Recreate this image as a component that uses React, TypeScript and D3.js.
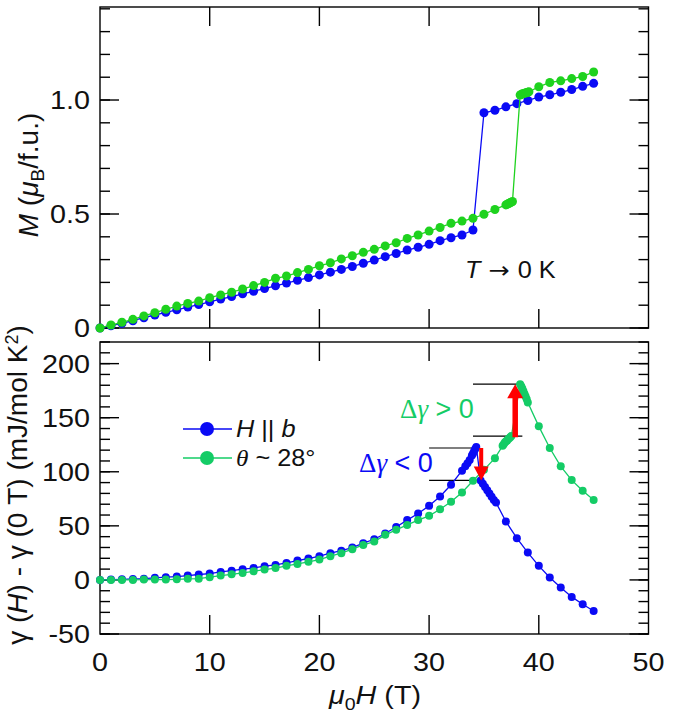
import React from 'react'
import { scaleLinear, line, range } from 'd3'

// Magnetization (top) and Sommerfeld coefficient change (bottom) vs field,
// for H || b (blue) and the tilted field theta ~ 28 deg (green).

// top panel: M (muB/f.u.)
const mBlueH = [
  0, 1, 2, 3, 4, 5, 6, 7, 8, 9, 10, 11, 12, 13, 14, 15, 16, 17, 18, 19, 20, 21, 22, 23, 24, 25, 26, 27, 28, 29, 30,
  31, 32, 33, 34, 35, 36, 37, 38, 39, 40, 41, 42, 43, 44, 45,
]
const mBlueM = [
  0, 0.01, 0.02, 0.032, 0.045, 0.057, 0.069, 0.08, 0.092, 0.103, 0.115, 0.127, 0.138, 0.15, 0.161, 0.173, 0.185,
  0.197, 0.209, 0.221, 0.233, 0.245, 0.257, 0.27, 0.284, 0.298, 0.313, 0.327, 0.342, 0.354, 0.367, 0.383, 0.396,
  0.408, 0.43, 0.944, 0.955, 0.97, 0.984, 0.998, 1.013, 1.023, 1.034, 1.046, 1.06, 1.073,
]
const mGreenH = [
  0, 1, 2, 3, 4, 5, 6, 7, 8, 9, 10, 11, 12, 13, 14, 15, 16, 17, 18, 19, 20, 21, 22, 23, 24, 25, 26, 27, 28, 29, 30,
  31, 32, 33, 34, 35, 36, 37.0, 37.1, 37.2, 37.3, 37.4, 37.5, 37.6, 38.3, 38.4, 38.5, 38.6, 38.7, 38.8, 38.9, 39.0,
  39.1, 40, 41, 42, 43, 44, 45,
]
const mGreenM = [
  0, 0.013, 0.025, 0.038, 0.053, 0.067, 0.082, 0.096, 0.108, 0.118, 0.133, 0.145, 0.157, 0.171, 0.186, 0.2, 0.218,
  0.228, 0.243, 0.257, 0.273, 0.286, 0.303, 0.317, 0.332, 0.345, 0.36, 0.374, 0.393, 0.408, 0.425, 0.441, 0.459,
  0.469, 0.481, 0.499, 0.52, 0.54, 0.542, 0.545, 0.547, 0.55, 0.552, 0.555, 1.022, 1.024, 1.027, 1.028, 1.03, 1.031,
  1.033, 1.034, 1.036, 1.058, 1.077, 1.084, 1.094, 1.103, 1.123,
]

// bottom panel: gamma(H) - gamma(0 T) (mJ/mol K^2)
const gBlueH = [
  0, 1, 2, 3, 4, 5, 6, 7, 8, 9, 10, 11, 12, 13, 14, 15, 16, 17, 18, 19, 20, 21, 22, 23, 24, 25, 26, 27, 28, 29, 30,
  31, 32, 33, 33.3, 33.5, 33.7, 33.9, 34.0, 34.1, 34.2, 34.3, 34.7, 34.9, 35.1, 35.3, 35.5, 35.7, 35.9, 36.1, 37, 38,
  39, 40, 41, 42, 43, 44, 45,
]
const gBlueG = [
  0, 0.3, 0.6, 0.9, 1.2, 1.9, 2.5, 3.1, 4, 5, 5.9, 7.4, 8.6, 9.9, 11, 12.7, 13.9, 15.7, 17.9, 19.8, 22, 24.7, 27,
  29.9, 34, 37.6, 42.9, 49, 55.3, 61.4, 68.5, 77.2, 88, 101, 105, 108, 111, 115, 117, 119, 121, 123, 92, 89, 86, 83,
  80, 77, 74, 71.5, 54, 38.6, 25.3, 13, 2.2, -7, -15.7, -22.5, -28.7,
]
const gGreenH = [
  0, 1, 2, 3, 4, 5, 6, 7, 8, 9, 10, 11, 12, 13, 14, 15, 16, 17, 18, 19, 20, 21, 22, 23, 24, 25, 26, 27, 28, 29, 30,
  31, 32, 33, 34, 35, 36, 36.7, 36.8, 36.9, 37.0, 37.1, 37.2, 37.3, 37.4, 37.5, 38.3, 38.4, 38.5, 38.6, 38.7, 38.8,
  38.9, 39.0, 40, 41, 42, 43, 44, 45,
]
const gGreenG = [
  0, 0, 0, 0, 0.3, 0.3, 0.3, 0.6, 1, 1.2, 2.5, 4, 5.2, 6.5, 8, 9.6, 11, 13, 14.8, 16.7, 18.8, 22, 24.7, 28.4, 32.4,
  35.5, 41.7, 46.3, 50.9, 55.3, 59.3, 65.4, 72.2, 80.9, 91.7, 101.8, 112.6, 124, 125.5, 127, 128, 129, 130, 131, 132,
  133, 181, 179, 177, 174.5, 172, 169.5, 167, 164, 142, 122, 105, 92.3, 82.4, 74,
]

// horizontal guide lines [from H, to H, level] and the two arrows [H, from, to]
const guideLines = [
  [34.0, 38.4, 181],
  [34.0, 38.5, 133],
  [30.0, 34.2, 122],
  [30.0, 34.8, 92],
]
const arrowUp = [37.85, 132, 181]
const arrowDown = [34.75, 122, 92]

const xTicks = [0, 10, 20, 30, 40, 50]
const mMajor = [0, 0.5, 1.0]
const mLabels = ['0', '0.5', '1.0']
const gMajor = [-50, 0, 50, 100, 150, 200]

const BLUE = '#0a0af5'
const GREEN_TOP = '#1ed21e'
const GREEN_BOT = '#14cc66'
const FONT = '"Liberation Sans", Arial, Helvetica, sans-serif'
const SERIF = '"Liberation Serif", serif'

const W = 699
const H = 719
const L = 100
const R = 648.5
const topY = [7, 328]
const botY = [342, 634]

const x = scaleLinear().domain([0, 50]).range([L, R])
const yM = scaleLinear().domain([0, 1.408]).range([topY[1], topY[0]])
const yG = scaleLinear().domain([-50, 220]).range([botY[1], botY[0]])

function Txt({
  x,
  y,
  size = 25,
  anchor = 'start',
  sx = 1.15,
  fill = '#111',
  children,
}: {
  x: number
  y: number
  size?: number
  anchor?: 'start' | 'middle' | 'end'
  sx?: number
  fill?: string
  children: React.ReactNode
}) {
  return (
    <text transform={`translate(${x},${y}) scale(${sx},1)`} fontSize={size} textAnchor={anchor} fill={fill} fontFamily={FONT}>
      {children}
    </text>
  )
}

function Frame({ y, major, minor }: { y: any; major: number[]; minor: number[] }) {
  const [y1, y0] = y.range()
  return (
    <g stroke="#000" strokeWidth={1.4} fill="none">
      <rect x={L} y={y0} width={R - L} height={y1 - y0} />
      {xTicks.slice(1, -1).map((t) => (
        <g key={t}>
          <line x1={x(t)} x2={x(t)} y1={y0} y2={y0 + 19} />
          <line x1={x(t)} x2={x(t)} y1={y1} y2={y1 - 19} />
        </g>
      ))}
      {minor.map((t) => (
        <g key={'m' + t}>
          <line x1={L} x2={L + 10} y1={y(t)} y2={y(t)} />
          <line x1={R} x2={R - 10} y1={y(t)} y2={y(t)} />
        </g>
      ))}
      {major.map((t) => (
        <g key={'M' + t}>
          <line x1={L} x2={L + 19} y1={y(t)} y2={y(t)} />
          <line x1={R} x2={R - 19} y1={y(t)} y2={y(t)} />
        </g>
      ))}
    </g>
  )
}

function Series({ xs, ys, y, color, r }: { xs: number[]; ys: number[]; y: any; color: string; r: number }) {
  const pts = xs.map((h, i) => [h, ys[i]] as [number, number])
  const d = line<[number, number]>()
    .x((p) => x(p[0]))
    .y((p) => y(p[1]))(pts)
  return (
    <g>
      <path d={d ?? ''} fill="none" stroke={color} strokeWidth={1.3} />
      {pts.map((p, i) => (
        <circle key={i} cx={x(p[0])} cy={y(p[1])} r={r} fill={color} />
      ))}
    </g>
  )
}

function Arrow({ a, shaft, head, hw }: { a: number[]; shaft: number; head: number; hw: number }) {
  const cx = x(a[0])
  const ys = yG(a[1])
  const tip = yG(a[2])
  const dir = tip < ys ? 1 : -1
  const hb = tip + dir * head
  const d = `M${cx - shaft / 2},${ys} L${cx - shaft / 2},${hb} L${cx - hw / 2},${hb} L${cx},${tip} L${cx + hw / 2},${hb} L${cx + shaft / 2},${hb} L${cx + shaft / 2},${ys} Z`
  return <path d={d} fill="#ff0000" />
}

export default function App() {
  const mMinor = range(0, 15).map((i) => i / 10).filter((v) => v <= 1.408)
  const gMinor = range(-50, 221, 10)
  return (
    <svg width={W} height={H} style={{ position: 'absolute', left: 0, top: 0, background: '#fff' }} fontFamily={FONT}>
      <Frame y={yM} major={mMajor} minor={mMinor} />
      <Frame y={yG} major={gMajor} minor={gMinor} />

      {/* top panel */}
      <Series xs={mBlueH} ys={mBlueM} y={yM} color={BLUE} r={4.5} />
      <Series xs={mGreenH} ys={mGreenM} y={yM} color={GREEN_TOP} r={4.5} />
      {mMajor.map((t, i) => (
        <Txt key={t} x={90} y={yM(t) + 9} anchor="end">
          {mLabels[i]}
        </Txt>
      ))}
      <Txt x={465} y={278} size={23} sx={1.1}>
        <tspan fontStyle="italic">T</tspan>
        <tspan fontFamily='"DejaVu Sans", sans-serif'> → </tspan>0 K
      </Txt>
      <text transform={`translate(38,175) rotate(-90)`} fontSize={28} textAnchor="middle" fill="#111">
        <tspan fontStyle="italic">M</tspan> (<tspan fontStyle="italic">μ</tspan>
        <tspan fontSize={19} dy={6}>B</tspan>
        <tspan dy={-6}>/f.u.)</tspan>
      </text>

      {/* bottom panel */}
      {guideLines.map((g, i) => (
        <line key={i} x1={x(g[0])} x2={x(g[1])} y1={yG(g[2])} y2={yG(g[2])} stroke="#000" strokeWidth={1.2} />
      ))}
      <Series xs={gBlueH} ys={gBlueG} y={yG} color={BLUE} r={4} />
      <Series xs={gGreenH} ys={gGreenG} y={yG} color={GREEN_BOT} r={4} />
      <Arrow a={arrowUp} shaft={5.5} head={14} hw={16} />
      <Arrow a={arrowDown} shaft={4} head={14} hw={15} />
      <Txt x={400} y={418} size={27} sx={1} fill={GREEN_BOT}>
        <tspan fontFamily={SERIF}>Δ</tspan>
        <tspan fontFamily={SERIF} fontStyle="italic">γ</tspan> &gt; 0
      </Txt>
      <Txt x={359} y={472} size={27} sx={1} fill={BLUE}>
        <tspan fontFamily={SERIF}>Δ</tspan>
        <tspan fontFamily={SERIF} fontStyle="italic">γ</tspan> &lt; 0
      </Txt>
      {gMajor.map((t) => (
        <Txt key={t} x={90} y={yG(t) + 9} anchor="end">
          {String(t)}
        </Txt>
      ))}
      {xTicks.map((t) => (
        <Txt key={t} x={x(t)} y={671} anchor="middle">
          {String(t)}
        </Txt>
      ))}
      <Txt x={375} y={704} size={25} sx={1.15} anchor="middle">
        <tspan fontStyle="italic">μ</tspan>
        <tspan fontSize={17} dy={6}>0</tspan>
        <tspan fontStyle="italic" dy={-6}>H</tspan> (T)
      </Txt>
      <text transform={`translate(27,485) rotate(-90)`} fontSize={28} textAnchor="middle" fill="#111">
        γ (<tspan fontStyle="italic">H</tspan>) - γ (0 T) (mJ/mol K<tspan fontSize={18} dy={-9}>2</tspan>
        <tspan dy={9}>)</tspan>
      </text>

      {/* legend */}
      {[
        { c: BLUE, y: 429 },
        { c: GREEN_BOT, y: 458 },
      ].map((l) => (
        <g key={l.y}>
          <line x1={183} x2={232} y1={l.y} y2={l.y} stroke={l.c} strokeWidth={1.3} />
          <circle cx={207} cy={l.y} r={7} fill={l.c} />
        </g>
      ))}
      <Txt x={236} y={437} size={23} sx={1.1}>
        <tspan fontStyle="italic">H</tspan> || <tspan fontStyle="italic">b</tspan>
      </Txt>
      <Txt x={236} y={466} size={23} sx={1.1}>
        <tspan fontFamily={SERIF} fontStyle="italic">θ</tspan> ~ 28°
      </Txt>
    </svg>
  )
}
